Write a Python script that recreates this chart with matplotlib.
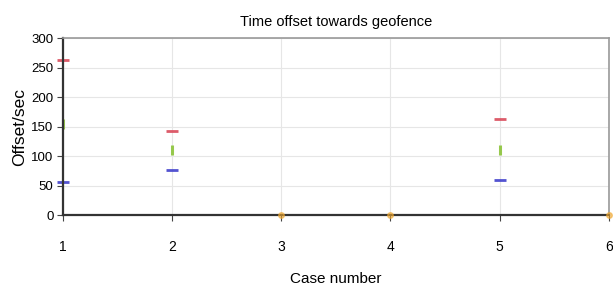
import matplotlib
matplotlib.use('Agg')
import matplotlib.pyplot as plt

matplotlib.rcParams['font.family'] = ['Liberation Sans Narrow', 'Liberation Sans', 'DejaVu Sans']

# data
cases = [1, 2, 3, 4, 5, 6]
red_cases = [1, 2, 5]
red_vals = [263, 142, 163]
green_cases = [1, 2, 5]
green_vals = [155, 110, 110]
blue_cases = [1, 2, 5]
blue_vals = [56, 77, 60]
orange_cases = [3, 4, 6]
orange_vals = [0, 0, 0]

fig = plt.figure(figsize=(6.13, 2.91), dpi=100)
ax = fig.add_axes([0.103, 0.261, 0.890, 0.608])

ax.plot(red_cases, red_vals, linestyle='none', marker='_', markersize=9,
        markeredgewidth=2.0, color='#d94a5a', alpha=0.9, clip_on=False)
ax.plot(green_cases, green_vals, linestyle='none', marker='|', markersize=7,
        markeredgewidth=2.2, color='#8cc43a', alpha=0.9, clip_on=False)
ax.plot(blue_cases, blue_vals, linestyle='none', marker='_', markersize=9,
        markeredgewidth=2.0, color='#4040cc', alpha=0.9, clip_on=False)
ax.plot(orange_cases, orange_vals, linestyle='none', marker='o', markersize=4,
        color='#f0a830', alpha=0.6, clip_on=False, zorder=5)

ax.set_xlim(1, 6)
ax.set_ylim(0, 300)
ax.set_xticks(cases)
ax.set_yticks(range(0, 301, 50))
ax.tick_params(labelsize=10, length=4, color='#444444', direction='out')
ax.tick_params(axis='x', pad=14)
ax.tick_params(axis='y', labelsize=9.5, pad=3)
ax.grid(True, color='#e6e6e6', linewidth=0.8)
ax.set_axisbelow(True)

for side in ['left', 'bottom']:
    ax.spines[side].set_color('#333333')
    ax.spines[side].set_linewidth(1.6)
for side in ['top', 'right']:
    ax.spines[side].set_color('#999999')
    ax.spines[side].set_linewidth(1.2)

ax.set_title('Time offset towards geofence', fontsize=10.5, pad=9)
ax.set_xlabel('Case number', fontsize=11, labelpad=13)
ax.set_ylabel('Offset/sec', fontsize=12.5)
ax.yaxis.set_label_coords(-0.066, 0.5)

plt.savefig('out.png', dpi=100)
